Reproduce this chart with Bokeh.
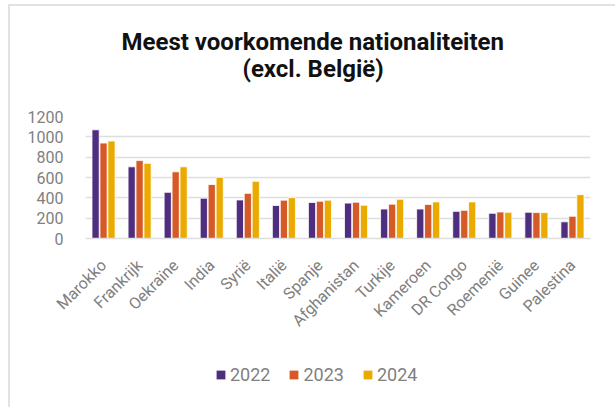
from bokeh.plotting import figure
from bokeh.layouts import column
from bokeh.models import ColumnDataSource, FactorRange, Legend, LegendItem, Title, FixedTicker
from bokeh.transform import dodge
from bokeh.embed import file_html
from bokeh.resources import INLINE
import math

countries = ["Marokko", "Frankrijk", "Oekraïne", "India", "Syrië", "Italië", "Spanje",
             "Afghanistan", "Turkije", "Kameroen", "DR Congo", "Roemenië", "Guinee", "Palestina"]
v2022 = [1069, 705, 454, 396, 379, 325, 354, 348, 290, 290, 267, 248, 258, 164]
v2023 = [939, 766, 656, 531, 444, 377, 367, 357, 338, 335, 277, 261, 255, 219]
v2024 = [959, 740, 705, 602, 563, 402, 377, 328, 386, 360, 360, 258, 255, 431]
years = ["2022", "2023", "2024"]
colors = ["#4F2D7F", "#D55A27", "#EBAA00"]
y_ticks = [0, 200, 400, 600, 800, 1000, 1200]
title1 = "Meest voorkomende nationaliteiten"
title2 = "(excl. België)"

src = ColumnDataSource(dict(c=countries, y2022=v2022, y2023=v2023, y2024=v2024))

p = figure(x_range=FactorRange(*countries), y_range=(0, 1200), width=605, height=333,
           output_backend="svg", toolbar_location=None,
           min_border_left=75, min_border_right=25, min_border_top=110, min_border_bottom=99)
p.outline_line_color = None

for i, (yr, col) in enumerate(zip(years, colors)):
    p.vbar(x=dodge("c", (i - 1) * 0.22, range=p.x_range), top="y" + yr, width=0.2,
           source=src, fill_color=col, line_color="white", line_width=0.8)

p.xgrid.grid_line_color = None
p.ygrid.grid_line_color = "#dedede"
p.ygrid.grid_line_width = 1.5
p.yaxis.ticker = FixedTicker(ticks=y_ticks)
p.yaxis.axis_line_color = None
p.yaxis.major_tick_line_color = None
p.yaxis.minor_tick_line_color = None
p.yaxis.major_label_standoff = 16
p.yaxis.major_label_text_font = "Roboto"
p.yaxis.major_label_text_font_size = "16px"
p.yaxis.major_label_text_color = "#808080"

p.xaxis.axis_line_color = "#dedede"
p.xaxis.axis_line_width = 1.5
p.xaxis.major_tick_line_color = None
p.xaxis.minor_tick_line_color = None
p.xaxis.major_label_orientation = math.pi / 4
p.xaxis.major_label_standoff = 18
p.xaxis.major_label_text_font = "Roboto"
p.xaxis.major_label_text_font_size = "16px"
p.xaxis.major_label_text_color = "#808080"

# spacer between frame and title lines
p.add_layout(Title(text=" ", text_font_size="10px", standoff=21), "above")
p.add_layout(Title(text=title2, align="left", offset=157, standoff=0, text_font="Roboto",
                   text_font_size="24px", text_font_style="bold", text_color="#111111"), "above")
p.add_layout(Title(text=title1, align="left", offset=36, standoff=-6, text_font="Roboto",
                   text_font_size="24px", text_font_style="bold", text_color="#111111"), "above")

# legend strip
q = figure(width=605, height=68, output_backend="svg", toolbar_location=None,
           x_axis_location=None, y_axis_location=None, min_border=0,
           x_range=(0, 1), y_range=(0, 1))
q.outline_line_color = None
q.grid.grid_line_color = None
lr = [q.vbar(x=[-5], top=[-5], width=0.1, fill_color=col, line_color=None) for col in colors]
legend = Legend(items=[LegendItem(label=y, renderers=[r]) for y, r in zip(years, lr)],
                orientation="horizontal", location=(130, 22), padding=0, spacing=18, margin=0,
                glyph_width=11, glyph_height=11, label_standoff=4,
                label_text_font="Roboto", label_text_font_size="18px", label_text_color="#808080",
                border_line_color=None, background_fill_alpha=0)
q.add_layout(legend, "center")

layout = column(p, q, spacing=0,
                styles={"margin-left": "8px", "margin-top": "4px",
                        "border-top": "2px solid #e2e2e2", "border-left": "2px solid #e2e2e2"})

open("out.html", "w").write(file_html(layout, INLINE))
